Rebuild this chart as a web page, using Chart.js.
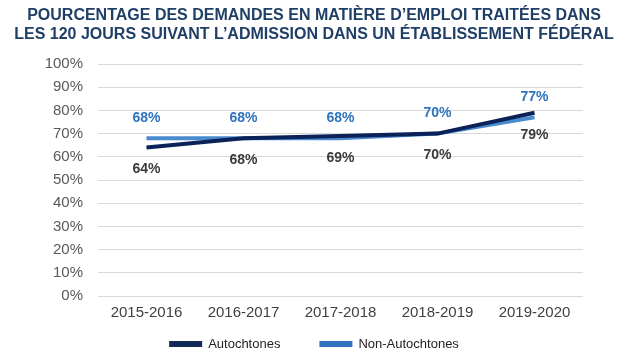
<!DOCTYPE html>
<html>
<head>
<meta charset="utf-8">
<script src="https://cdn.jsdelivr.net/npm/chart.js@4.4.0/dist/chart.umd.min.js"></script>
<style>
  html, body { margin: 0; padding: 0; background: #fff; }
  #wrap { width: 628px; height: 359px; }
</style>
</head>
<body>
<div id="wrap"><canvas id="myChart" width="628" height="359"></canvas></div>
<script>
const years = ['2015-2016', '2016-2017', '2017-2018', '2018-2019', '2019-2020'];
const autochtones = [64, 68, 69, 70, 79];
const nonAutochtones = [68, 68, 68, 70, 77];
const yTicks = [0, 10, 20, 30, 40, 50, 60, 70, 80, 90, 100];
const titleLines = ['POURCENTAGE DES DEMANDES EN MATIÈRE D\u2019EMPLOI TRAITÉES DANS',
                    'LES 120 JOURS SUIVANT L\u2019ADMISSION DANS UN ÉTABLISSEMENT FÉDÉRAL'];

const FONT = 'Arial, "Liberation Sans", sans-serif';

// value labels: non-autochtones above the line, autochtones below
const valueLabels = {
    id: 'valueLabels',
    afterDatasetsDraw(chart) {
        const ctx = chart.ctx;
        ctx.save();
        ctx.font = 'bold 14px ' + FONT;
        ctx.textAlign = 'center';
        ctx.textBaseline = 'middle';
        chart.data.datasets.forEach((ds, i) => {
            const meta = chart.getDatasetMeta(i);
            meta.data.forEach((pt, j) => {
                ctx.fillStyle = ds.labelColor;
                const dy = ds.labelAbove ? -20 : 22;
                ctx.fillText(ds.data[j] + '%', pt.x, pt.y + dy);
            });
        });
        ctx.restore();
    }
};

// title across the full width of the canvas
const wideTitle = {
    id: 'wideTitle',
    afterDraw(chart) {
        const ctx = chart.ctx;
        ctx.save();
        ctx.font = 'bold 16px ' + FONT;
        ctx.fillStyle = '#1f3f66';
        ctx.textAlign = 'center';
        ctx.textBaseline = 'middle';
        titleLines.forEach((t, i) => ctx.fillText(t, chart.width / 2, 15.5 + i * 19.5));
        ctx.restore();
    }
};

// legend with a wide gap between the two entries
const wideLegend = {
    id: 'wideLegend',
    afterDraw(chart) {
        const ctx = chart.ctx;
        ctx.save();
        ctx.font = '13px ' + FONT;
        ctx.textBaseline = 'middle';
        const box = 33, gapText = 6, gapItem = 39, y = 344;
        const items = chart.data.datasets.map(ds => ({ text: ds.label, color: ds.legendColor, w: ctx.measureText(ds.label).width }));
        let total = items.reduce((s, it) => s + box + gapText + it.w, 0) + gapItem * (items.length - 1);
        let x = chart.width / 2 - total / 2;
        items.forEach(it => {
            ctx.fillStyle = it.color;
            ctx.fillRect(x, y - 3, box, 6);
            x += box + gapText;
            ctx.fillStyle = '#222';
            ctx.textAlign = 'left';
            ctx.fillText(it.text, x, y);
            x += it.w + gapItem;
        });
        ctx.restore();
    }
};

new Chart(document.getElementById('myChart').getContext('2d'), {
    type: 'line',
    data: {
        labels: years,
        datasets: [
            {
                label: 'Autochtones',
                data: autochtones,
                borderColor: '#0b2258',
                backgroundColor: '#0b2258',
                borderWidth: 4,
                pointRadius: 0,
                labelColor: '#3a3a3a',
                legendColor: '#112a55',
                labelAbove: false
            },
            {
                label: 'Non-Autochtones',
                data: nonAutochtones,
                borderColor: '#4a8bd0',
                backgroundColor: '#4a8bd0',
                borderWidth: 4,
                pointRadius: 0,
                labelColor: '#2f74bd',
                legendColor: '#2f74bd',
                labelAbove: true
            }
        ]
    },
    options: {
        responsive: false,
        animation: false,
        layout: { padding: { left: 0, right: 45, top: 64, bottom: 29 } },
        plugins: {
            title: { display: false },
            legend: { display: false },
            tooltip: { enabled: false }
        },
        scales: {
            x: {
                offset: true,
                grid: { display: false, drawTicks: false },
                border: { display: false },
                ticks: {
                    color: '#404040',
                    padding: 8,
                    autoSkip: false,
                    maxRotation: 0,
                    font: { family: FONT, size: 15 }
                }
            },
            y: {
                min: 0,
                max: 100,
                afterBuildTicks: (axis) => { axis.ticks = yTicks.map(v => ({ value: v })); },
                afterFit: (axis) => { axis.width = 98; },
                grid: { color: '#d9d9d9', lineWidth: 1, drawTicks: false },
                border: { display: false },
                ticks: {
                    color: '#595959',
                    padding: 15,
                    autoSkip: false,
                    callback: (v) => v + '%',
                    font: { family: FONT, size: 15 }
                }
            }
        }
    },
    plugins: [valueLabels, wideTitle, wideLegend]
});
</script>
</body>
</html>
